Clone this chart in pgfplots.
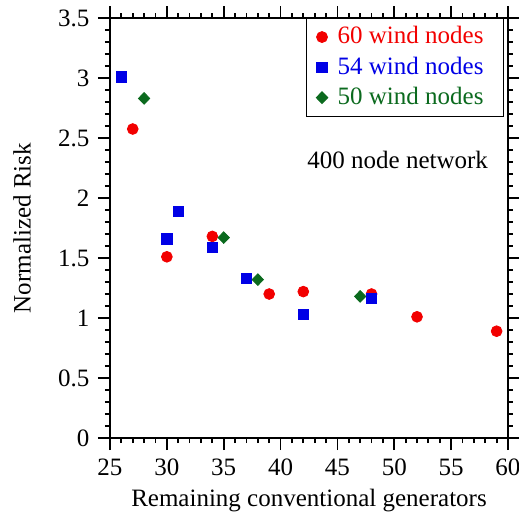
\documentclass[border=0pt]{standalone}
\usepackage{fontspec}
\setmainfont{Liberation Serif}
\usepackage{pgfplots}
\pgfplotsset{compat=1.18}
\definecolor{rred}{HTML}{F20000}
\definecolor{rblue}{HTML}{0000E6}
\definecolor{rgreen}{HTML}{0B6A1E}

\begin{document}
\fontsize{12.5}{15}\selectfont
\begin{tikzpicture}
\begin{axis}[
  scale only axis,
  width=199pt, height=210pt,
  xmin=25, xmax=60, ymin=0, ymax=3.5,
  xtick={25,30,...,60},
  ytick={0,0.5,...,3.5},
  minor x tick num=4, minor y tick num=4,
  tick align=outside,
  major tick length=6pt, minor tick length=2.5pt,
  every tick/.style={black, line width=0.9pt},
  axis line style={line width=1pt},
  /pgf/number format/assume math mode=true,
  tick label style={font=\fontsize{12.5}{15}\selectfont},
  yticklabel style={/pgf/number format/fixed},
  xlabel={Remaining conventional generators},
  ylabel={Normalized Risk},
  label style={font=\fontsize{12.5}{15}\selectfont},
  xlabel style={yshift=2pt},
  ylabel style={yshift=5pt},
  legend style={at={(rel axis cs:0.99,1)}, anchor=north east,
    font=\fontsize{12.5}{15}\selectfont, draw=black, line width=0.5pt,
    inner xsep=5pt, inner ysep=2pt, row sep=0.6pt,
    nodes={inner xsep=5pt}, cells={anchor=west}},
  legend cell align=left,
]
\addplot[only marks, mark=*, mark size=2.7pt, color=rred] coordinates {
  (27,2.575) (30,1.51) (34,1.68) (39,1.20) (42,1.22) (48,1.20) (52,1.01) (59,0.89)
};
\addlegendentry{\textcolor{rred}{60 wind nodes}}
\addplot[only marks, mark=square*, mark size=2.6pt, color=rblue] coordinates {
  (26,3.01) (30,1.66) (31,1.89) (34,1.59) (37,1.33) (42,1.03) (48,1.165)
};
\addlegendentry{\textcolor{rblue}{54 wind nodes}}
\addplot[only marks, mark=diamond*, mark size=2.9pt, color=rgreen,
  mark options={xscale=1.3}] coordinates {
  (28,2.83) (35,1.67) (38,1.32) (47,1.18)
};
\addlegendentry{\textcolor{rgreen}{50 wind nodes}}
\node at (axis cs:50.3,2.32) {400 node network};
\end{axis}
\pgfresetboundingbox
\path[use as bounding box] ([xshift=-55pt,yshift=-38pt]current axis.south west)
  rectangle ([xshift=5.5pt,yshift=9pt]current axis.north east);
\end{tikzpicture}
\end{document}
